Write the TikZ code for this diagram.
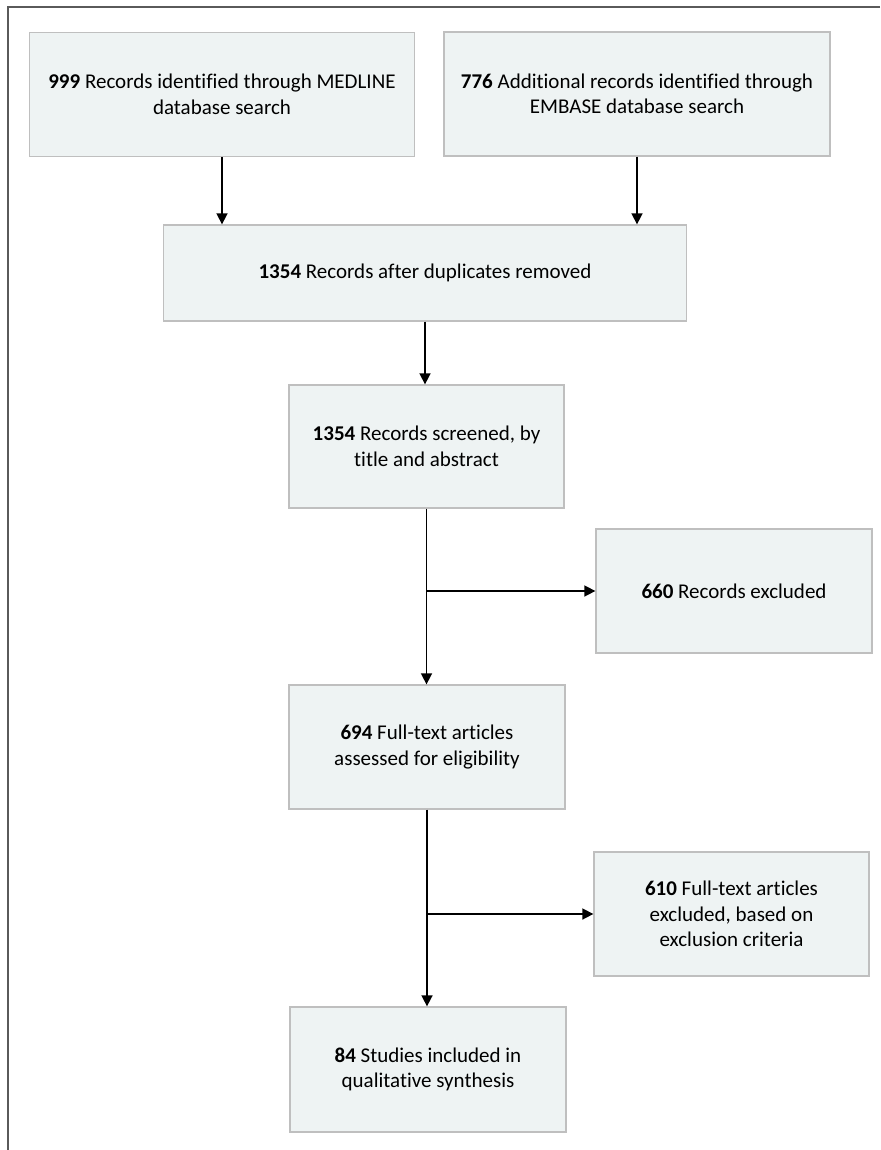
\documentclass[tikz,border=0pt]{standalone}
\usepackage{fontspec}
\setmainfont{Carlito}[Ligatures=CommonOff]
\usetikzlibrary{arrows.meta}
\definecolor{boxfill}{HTML}{EEF3F3}
\definecolor{boxline}{HTML}{BFBFBF}
\definecolor{framegray}{HTML}{5A5A5A}
\tikzset{
	box/.style={draw=boxline, fill=boxfill, line width=1.3pt, align=center, inner sep=0pt,
		minimum width=276pt, minimum height=124pt, font=\fontsize{21}{25.5}\selectfont},
	flow/.style={line width=1.6pt, -{Triangle[length=11pt,width=11pt]}}
}
\begin{document}
\begin{tikzpicture}[x=1pt, y=-1pt]
		%%%%% START %%%%%
		\useasboundingbox (0, 0) rectangle (880, 1150);
		\draw[framegray, line width=2pt] (880, 7.5) -- (7.5, 7.5) -- (7.5, 1150);
		
		\node[box, minimum width=385pt] (medline) at (222, 94.5) {\textbf{999} Records identified through MEDLINE\\database search};
		\node[box, minimum width=386pt] (embase) at (637, 94) {\textbf{776} Additional records identified through\\EMBASE database search};
		\node[box, minimum width=523pt, minimum height=96pt] (dup) at (425, 273) {\textbf{1354} Records after duplicates removed};
		\node[box, minimum width=275pt, minimum height=123pt] (screen) at (426.5, 446.5) {\textbf{1354} Records screened, by\\title and abstract};
		\node[box] (excl1) at (734, 591) {\textbf{660} Records excluded};
		\node[box] (fulltext) at (427, 747) {\textbf{694} Full-text articles\\assessed for eligibility};
		\node[box, minimum width=275pt] (excl2) at (731.5, 914) {\textbf{610} Full-text articles\\excluded, based on\\exclusion criteria};
		\node[box, minimum height=125pt] (incl) at (428, 1069.5) {\textbf{84} Studies included in\\qualitative synthesis};
		
		\draw[flow] (medline.south) -- (medline.south |- dup.north);
		\draw[flow] (embase.south) -- (embase.south |- dup.north);
		\draw[flow] (dup.south) -- (dup.south |- screen.north);
		\draw[flow] (screen.south) -- (screen.south |- fulltext.north);
		\draw[flow] (screen.south |- excl1.west) -- (excl1.west);
		\draw[flow] (fulltext.south) -- (fulltext.south |- incl.north);
		\draw[flow] (fulltext.south |- excl2.west) -- (excl2.west);
		%%%%% END %%%%%
	\end{tikzpicture}
\end{document}
